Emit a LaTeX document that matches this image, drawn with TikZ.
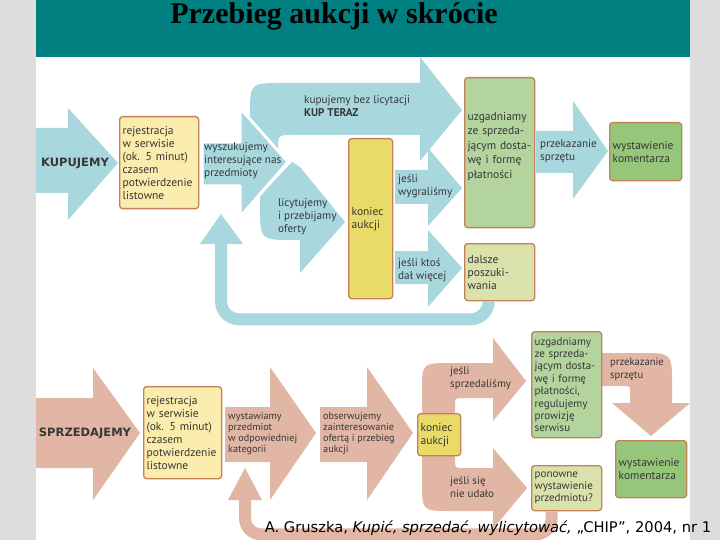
\documentclass[tikz,border=0pt]{standalone}
\usepackage{fontspec}
\setmainfont{PT Sans}
\newfontfamily\titlefont{Liberation Serif}
\newfontfamily\headfont{DejaVu Sans}
\usetikzlibrary{positioning}
\definecolor{slidegray}{RGB}{221,221,221}
\definecolor{titleteal}{RGB}{0,128,128}
\definecolor{buyblue}{RGB}{168,216,222}
\definecolor{sellsalmon}{RGB}{226,182,164}
\definecolor{paleyellow}{RGB}{250,236,172}
\definecolor{endyellow}{RGB}{234,219,104}
\definecolor{sagegreen}{RGB}{180,212,158}
\definecolor{palegreen}{RGB}{216,226,170}
\definecolor{grassgreen}{RGB}{150,198,122}
\definecolor{boxbrown}{RGB}{196,128,88}
\definecolor{inkgray}{RGB}{55,55,55}

\begin{document}
\begin{tikzpicture}[x=1pt, y=-1pt,
    etap/.style={draw=boxbrown, line width=1.3pt, rounded corners=3pt, anchor=north west,
                 inner xsep=3pt, inner ysep=2pt, align=left, text=inkgray,
                 font=\fontsize{11.5}{13}\selectfont},
    opis/.style={anchor=west, align=left, inner sep=0pt, text=inkgray,
                 font=\fontsize{11.2}{13}\selectfont},
    opismaly/.style={opis, font=\fontsize{10.2}{11}\selectfont},
    kup/.style={fill=buyblue},
    sprz/.style={fill=sellsalmon},
    haslo/.style={text=inkgray, font=\headfont\bfseries\fontsize{11.5}{13}\selectfont}]
    \useasboundingbox (0,0) rectangle (720,540);
    % Slide
    \fill[slidegray] (0,0) rectangle (720,540);
    \fill[white] (36,57) rectangle (690,540);
    \fill[titleteal] (36,0) rectangle (690,57);
    \node[font=\titlefont\bfseries\fontsize{30}{32}\selectfont] (tytul) at (334,16) {Przebieg aukcji w skrócie};

    % KUPUJEMY: arrows
    \fill[kup] (36,128) -- (68,128) -- (68,108) -- (118,163) -- (68,220) -- (68,193) -- (36,193) -- cycle;
    \fill[kup] (250,128) -- (250,115) .. controls (250,83) .. (282,83) -- (420,83) -- (420,57)
               -- (462,110) -- (420,161) -- (420,135) -- (292,135) .. controls (278,135) .. (278,149)
               -- (278,158) -- cycle;
    \fill[kup] (300,167) -- (345,222) -- (300,273) -- (300,240) -- (294,240) .. controls (260,240) .. (260,206)
               -- (260,196) -- (292,162) -- cycle;
    \filldraw[kup, draw=white, line width=3pt, line join=round]
               (202,142) -- (240,142) -- (240,108) -- (288,162) -- (240,217) -- (240,186) -- (202,186) -- cycle;
    \fill[kup] (395,170) -- (428,170) -- (428,148) -- (462,188) -- (428,226) -- (428,204) -- (395,204) -- cycle;
    \fill[kup] (395,251) -- (428,251) -- (428,230) -- (462,268) -- (428,307) -- (428,284) -- (395,284) -- cycle;
    \fill[kup] (536,131) -- (573,131) -- (573,101) -- (608,151) -- (573,199) -- (573,173) -- (536,173) -- cycle;

    % SPRZEDAJEMY: arrows
    \fill[sprz] (36,398) -- (93,398) -- (93,368) -- (140,433) -- (93,500) -- (93,468) -- (36,468) -- cycle;
    \fill[sprz] (225,407) -- (270,407) -- (270,367) -- (316,433) -- (270,500) -- (270,462) -- (225,462) -- cycle;
    \fill[sprz] (320,407) -- (367,407) -- (367,367) -- (413,433) -- (367,500) -- (367,462) -- (320,462) -- cycle;
    \fill[sprz] (422,416) -- (422,392) .. controls (422,363) .. (451,363) -- (493,363) -- (493,338)
                -- (526,381) -- (493,421) -- (493,398) -- (463,398) .. controls (455,398) .. (455,406)
                -- (455,416) -- cycle;
    \fill[sprz] (422,452) -- (422,482) .. controls (422,511) .. (451,511) -- (493,511) -- (493,529)
                -- (527,488) -- (493,448) -- (493,468) -- (463,468) .. controls (455,468) .. (455,460)
                -- (455,452) -- cycle;
    \fill[sprz] (599,353) -- (640,353) .. controls (672,353) .. (672,385) -- (672,403) -- (690,403)
                -- (651,436) -- (612,403) -- (630,403) -- (630,393) .. controls (630,386) .. (623,386)
                -- (599,386) -- cycle;

    % KUPUJEMY: boxes
    \node[etap, fill=paleyellow, minimum width=79, minimum height=92, text width=73] (rejK) at (119,116)
         {rejestracja\\w serwisie\\(ok. 5 minut)\\czasem\\potwierdzenie\\listowne};
    \node[etap, fill=endyellow, minimum width=44, minimum height=160, text width=38] (konK) at (348,138)
         {koniec\\aukcji};
    \node[etap, fill=sagegreen, minimum width=70, minimum height=150, text width=64,
          font=\fontsize{11.5}{14.5}\selectfont] (uzgK) at (464,77)
         {uzgadniamy\\ze sprzeda-\\jącym dosta-\\wę i formę\\płatności\\\mbox{}};
    \node[etap, fill=palegreen, minimum width=70, minimum height=57, text width=64] (dalK) at (464,243)
         {dalsze\\poszuki-\\wania};
    \node[etap, fill=grassgreen, minimum width=72, minimum height=58, text width=66] (wysK) at (609,122)
         {wystawienie\\komentarza};

    % SPRZEDAJEMY: boxes
    \node[etap, fill=paleyellow, minimum width=78, minimum height=92, text width=72] (rejS) at (143,386)
         {rejestracja\\w serwisie\\(ok. 5 minut)\\czasem\\potwierdzenie\\listowne};
    \node[etap, fill=endyellow, minimum width=43, minimum height=42, text width=37] (konS) at (417,413)
         {koniec\\aukcji};
    \node[etap, fill=sagegreen, minimum width=70, minimum height=106, text width=64,
          font=\fontsize{11}{12.4}\selectfont] (uzgS) at (531,331)
         {uzgadniamy\\ze sprzeda-\\jącym dosta-\\wę i formę\\płatności,\\regulujemy\\prowizję\\serwisu};
    \node[etap, fill=palegreen, minimum width=70, minimum height=45, text width=64,
          font=\fontsize{11}{12}\selectfont] (ponS) at (531,465)
         {ponowne\\wystawienie\\przedmiotu?};
    \node[etap, fill=grassgreen, minimum width=71, minimum height=57, text width=65] (wysS) at (615,440)
         {wystawienie\\komentarza};

    % Loops back
    \draw[buyblue, line width=12pt, rounded corners=18pt] ([xshift=-11pt]dalK.south) -- ++(0,18) -| (221,243);
    \fill[kup] (200,244) -- (221,214) -- (243,244) -- cycle;
    \draw[sellsalmon, line width=12pt, rounded corners=16pt] ([xshift=-15pt]ponS.south) -- ++(0,23) -| (245,499);
    \fill[sprz] (228,500) -- (245,468) -- (262,500) -- cycle;

    % Labels on arrows
    \node[haslo] (kupujemy) at (75,163) {KUPUJEMY};
    \node[haslo] (sprzedajemy) at (85,433) {SPRZEDAJEMY};
    \node[opis] (szukaj) at (204,161) {wyszukujemy\\interesujące nas\\przedmioty};
    \node[opis] (kupteraz) at (304,106) {kupujemy bez licytacji\\\textbf{KUP TERAZ}};
    \node[opis] (licytuj) at (278,217) {licytujemy\\i przebijamy\\oferty};
    \node[opis] (wygrana) at (398,186) {jeśli\\wygraliśmy};
    \node[opis] (przegrana) at (398,270) {jeśli ktoś\\dał więcej};
    \node[opis] (przekazK) at (540,151) {przekazanie\\sprzętu};
    \node[opismaly] (wystaw) at (228,433) {wystawiamy\\przedmiot\\w odpowiedniej\\kategorii};
    \node[opismaly] (obserwuj) at (323,433) {obserwujemy\\zainteresowanie\\ofertą i przebieg\\aukcji};
    \node[opis, font=\fontsize{11}{13}\selectfont] (sprzedane) at (450,378) {jeśli\\sprzedaliśmy};
    \node[opis, font=\fontsize{11}{13}\selectfont] (nieudane) at (450,487) {jeśli się\\nie udało};
    \node[opis, font=\fontsize{10.6}{13}\selectfont] (przekazS) at (610,369) {przekazanie\\sprzętu};

    % Source
    \node[font=\headfont\fontsize{14.7}{16}\selectfont, anchor=base, inner sep=0pt] (zrodlo) at (488,532)
         {A. Gruszka, \textit{Kupić, sprzedać, wylicytować,} „CHIP”, 2004, nr 1};
\end{tikzpicture}
\end{document}
